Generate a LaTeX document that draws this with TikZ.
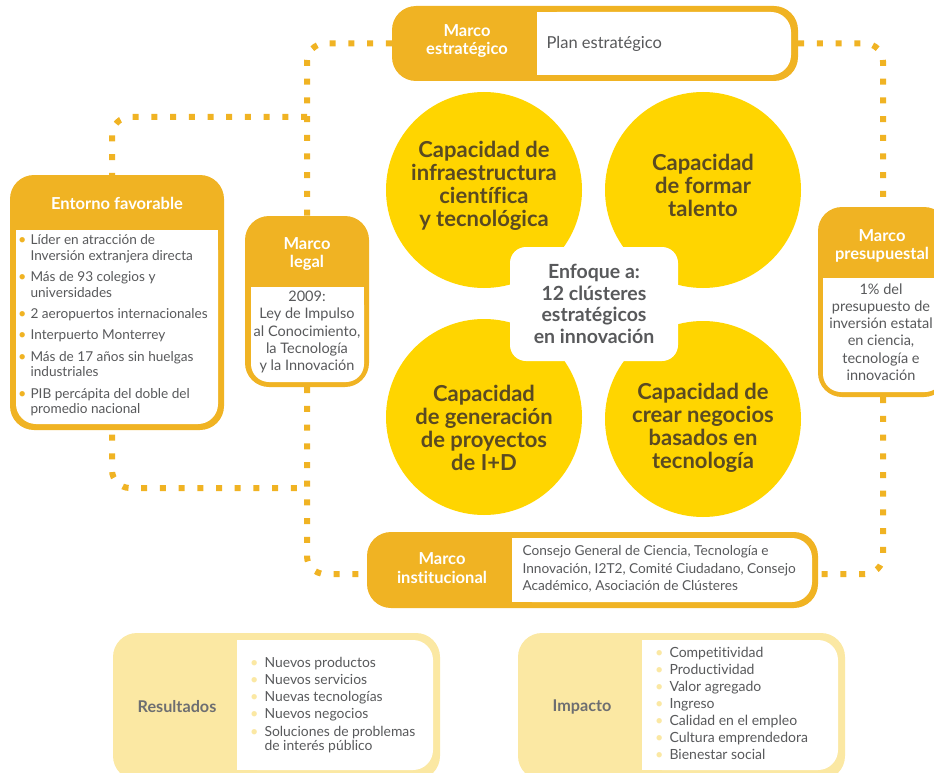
\documentclass[tikz,border=0pt]{standalone}
\usepackage{fontspec}
\setmainfont{Lato}[Ligatures=NoCommon]
\usepackage{tikz}
\usetikzlibrary{backgrounds}

\definecolor{boxorange}{HTML}{F0B323}
\definecolor{capyellow}{HTML}{FFD500}
\definecolor{softyellow}{HTML}{FBE8A3}
\definecolor{textgray}{HTML}{58595B}
\definecolor{capgray}{HTML}{5A4A22}
\definecolor{labelgray}{HTML}{6D6E71}

\newcommand{\obul}{\textcolor{boxorange}{\Large•}}
\newcommand{\ybul}{\textcolor{softyellow}{\Large•}}

\begin{document}
\begin{tikzpicture}[x=1pt, y=-1pt,
    boxframe/.style={fill=boxorange, rounded corners=24pt, inner sep=0pt},
    softframe/.style={fill=softyellow, rounded corners=24pt, inner sep=0pt},
    circ/.style={circle, fill=capyellow, minimum size=196pt, inner sep=0pt},
    head/.style={font=\fontsize{16.5}{18.5}\selectfont\bfseries, text=white, align=center},
    body/.style={font=\fontsize{14.5}{17.3}\selectfont, text=textgray, align=center},
    listtext/.style={font=\fontsize{13.6}{15.8}\selectfont, text=textgray, align=left, inner sep=0pt, anchor=north west},
    softlabel/.style={font=\fontsize{16.2}{18}\selectfont\bfseries, text=labelgray},
    captext/.style={font=\fontsize{22}{23}\selectfont\bfseries, text=capgray, align=center},
    dotline/.style={draw=boxorange, line width=6pt, dash pattern=on 6pt off 12.7pt, rounded corners=18pt}
]
\useasboundingbox (0,0) rectangle (934,773);

% Circles
\node[circ] (ctl) at (484,190) {};
\node[circ] (ctr) at (703,190) {};
\node[circ] (cbl) at (484,417) {};
\node[circ] (cbr) at (703,419) {};

\node[captext] (ttl) at ([yshift=4pt]ctl.center) {Capacidad de\\infraestructura\\científica\\y tecnológica};
\node[captext] (ttr) at ([yshift=5pt]ctr.center) {Capacidad\\de formar\\talento};
\node[captext] (tbl) at ([yshift=-11pt]cbl.center) {Capacidad\\de generación\\de proyectos\\de I+D};
\node[captext] (tbr) at ([yshift=-9pt]cbr.center) {Capacidad de\\crear negocios\\basados en\\tecnología};

% Focus
\node[fill=white, rounded corners=16pt, minimum width=168pt, minimum height=114pt,
      font=\fontsize{19.5}{21.5}\selectfont\bfseries, text=textgray, align=center] (focus) at (594,304)
      {Enfoque a:\\12 clústeres\\estratégicos\\en innovación};

% Marco estratégico
\node[boxframe, minimum width=406pt, minimum height=75pt] (estrat) at (595,43.5) {};
\fill[white, rounded corners=20pt] (537,12) rectangle (791,75);
\fill[white] (537,12) rectangle (600,75);
\node[head] (estrathead) at (467,41) {Marco\\estratégico};
\node[body, anchor=west, font=\fontsize{16.5}{18}\selectfont] (estratbody) at (543,44) {Plan estratégico};

% Entorno favorable
\node[boxframe, minimum width=214pt, minimum height=255pt] (entorno) at (117,302.5) {};
\fill[white, rounded corners=20pt] (16,230) rectangle (218,424);
\fill[white] (16,230) rectangle (218,300);
\node[head] (entornohead) at (117,203) {Entorno favorable};
\node[listtext] (entornolist) at (18,233) {%
\begin{tabular}{@{}l@{\hspace{4pt}}l@{}}
\obul & Líder en atracción de\\
      & Inversión extranjera directa\\[5.5pt]
\obul & Más de 93 colegios y\\
      & universidades\\[5.5pt]
\obul & 2 aeropuertos internacionales\\[5.5pt]
\obul & Interpuerto Monterrey\\[5.5pt]
\obul & Más de 17 años sin huelgas\\
      & industriales\\[5.5pt]
\obul & PIB percápita del doble del\\
      & promedio nacional
\end{tabular}};

% Marco legal
\node[boxframe, minimum width=124pt, minimum height=171pt] (legal) at (307,301.5) {};
\fill[white, rounded corners=18pt] (251,287) rectangle (364,382);
\fill[white] (251,287) rectangle (364,330);
\node[head] (legalhead) at (307,254) {Marco\\legal};
\node[body] (legalbody) at (307,332) {2009:\\Ley de Impulso\\al Conocimiento,\\la Tecnología\\y la Innovación};

% Marco presupuestal
\node[boxframe, minimum width=130pt, minimum height=190pt] (presu) at (883,302) {};
\fill[white, rounded corners=18pt] (823,278) rectangle (943,392);
\fill[white] (823,278) rectangle (943,330);
\node[head] (presuhead) at (882,246) {Marco\\presupuestal};
\node[body] (presubody) at (881,332) {1\% del\\presupuesto de\\inversión estatal\\en ciencia,\\tecnología e\\innovación};

% Marco institucional
\node[boxframe, minimum width=451pt, minimum height=76pt] (inst) at (592.5,570) {};
\fill[white, rounded corners=20pt] (512,538) rectangle (812,602);
\fill[white] (512,538) rectangle (600,602);
\node[head] (insthead) at (442,568) {Marco\\institucional};
\node[body, align=left, anchor=west, font=\fontsize{13.7}{17.5}\selectfont] (instbody) at (519,569)
      {Consejo General de Ciencia, Tecnología e\\Innovación, I2T2, Comité Ciudadano, Consejo\\Académico, Asociación de Clústeres};

% Resultados
\node[softframe, minimum width=327pt, minimum height=147pt] (res) at (276.5,706.5) {};
\fill[white, rounded corners=20pt] (237,640) rectangle (433,770);
\fill[white] (237,640) rectangle (300,770);
\node[softlabel] (reslabel) at (177,707) {Resultados};
\node[listtext, font=\fontsize{13.9}{17.2}\selectfont] (reslist) at (250,655) {%
\begin{tabular}{@{}l@{\hspace{6pt}}l@{}}
\ybul & Nuevos productos\\
\ybul & Nuevos servicios\\
\ybul & Nuevas tecnologías\\
\ybul & Nuevos negocios\\
\ybul & Soluciones de problemas\\[-3pt]
      & de interés público
\end{tabular}};

% Impacto
\node[softframe, minimum width=327pt, minimum height=147pt] (imp) at (681.5,706.5) {};
\fill[white, rounded corners=20pt] (642,640) rectangle (838,770);
\fill[white] (642,640) rectangle (700,770);
\node[softlabel] (implabel) at (582,707) {Impacto};
\node[listtext, font=\fontsize{14}{17}\selectfont] (implist) at (655,645) {%
\begin{tabular}{@{}l@{\hspace{6pt}}l@{}}
\ybul & Competitividad\\
\ybul & Productividad\\
\ybul & Valor agregado\\
\ybul & Ingreso\\
\ybul & Calidad en el empleo\\
\ybul & Cultura emprendedora\\
\ybul & Bienestar social
\end{tabular}};

% Dotted links
\coordinate (ltop) at (307,117);
\coordinate (lbot) at (307,488);
\coordinate (lcorner) at (112,488);
\begin{scope}[on background layer]
\draw[dotline] (estrat.west) -| (legal.north);
\draw[dotline] (legal.south) |- ([yshift=-4pt]inst.west);
\draw[dotline] (estrat.east) -| (presu.north);
\draw[dotline] (presu.south) |- ([yshift=-4pt]inst.east);
\draw[dotline] (ltop) -| (lcorner) -- (lbot);
\end{scope}

\end{tikzpicture}
\end{document}
